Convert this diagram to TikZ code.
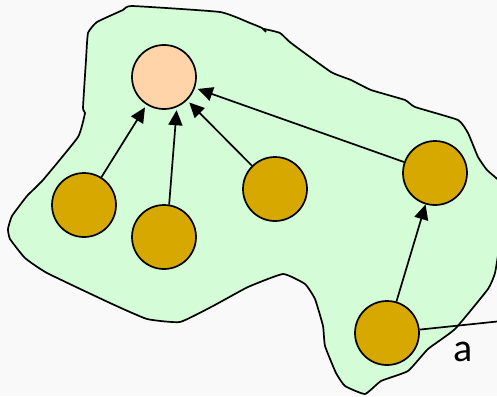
\documentclass[tikz,border=0pt]{standalone}
\usepackage{fontspec}
\setmainfont{Carlito}
\usepackage{tikz}
\usetikzlibrary{automata, arrows.meta}
\definecolor{bggray}{HTML}{F9F9F9}
\definecolor{blobgreen}{HTML}{D4FCD7}
\definecolor{peach}{HTML}{FFD4A8}
\definecolor{gold}{HTML}{D6A800}
\tikzset{every picture/.style={line width=1.7pt}}

\begin{document}
\begin{tikzpicture}[x=1pt,y=-1pt,
    every edge/.append style={-{Triangle[length=15pt,width=14pt]}, shorten >=3pt},
    every state/.style={line width=1.7pt, minimum size=64pt, inner sep=0pt, fill=gold},
    region/.style={line width=1.7pt, fill=blobgreen}]
    \useasboundingbox[fill=bggray] (0,0) rectangle (497,396);
    \clip (0,0) rectangle (497,396);
    \draw[region] plot[smooth cycle, tension=0.25] coordinates {
        (132,6) (220,12) (250,23) (262,28) (266,32) (264,29) (280,33) (291,43)
        (331,72) (351,80) (371,90) (405,100) (415,107) (458,120) (468,133)
        (478,157) (487,170) (502,184) (512,215) (500,245) (495,273) (488,289)
        (455,329) (428,349) (408,371) (381,381) (365,394) (345,386) (336,373)
        (325,346) (323,326) (315,299) (305,284) (283,274) (248,287) (213,306)
        (180,322) (147,319) (110,303) (47,273) (25,258) (10,239) (8,229)
        (12,216) (27,196) (43,180) (78,137) (85,113) (83,108) (86,60) (88,33)
        (97,22) (123,10)};
    \node[state,fill=peach] (r) at (164,77) {};
    \node[state] (u) at (84,205) {};
    \node[state] (v) at (164,237) {};
    \node[state] (w) at (275,189) {};
    \node[state] (x) at (435,173) {};
    \node[state] (y) at (387,333) {};
    \coordinate (out) at (502,321);
    \node[font=\fontsize{40}{48}\selectfont] (lbl) at (463,352) {a};
    \draw
        (u) edge (r)
        (v.81) edge (r.-67)
        (w) edge (r)
        (x) edge (r)
        (y) edge[shorten >=0pt] (x)
        (y) edge[-] (out)
        ;
\end{tikzpicture}
\end{document}
